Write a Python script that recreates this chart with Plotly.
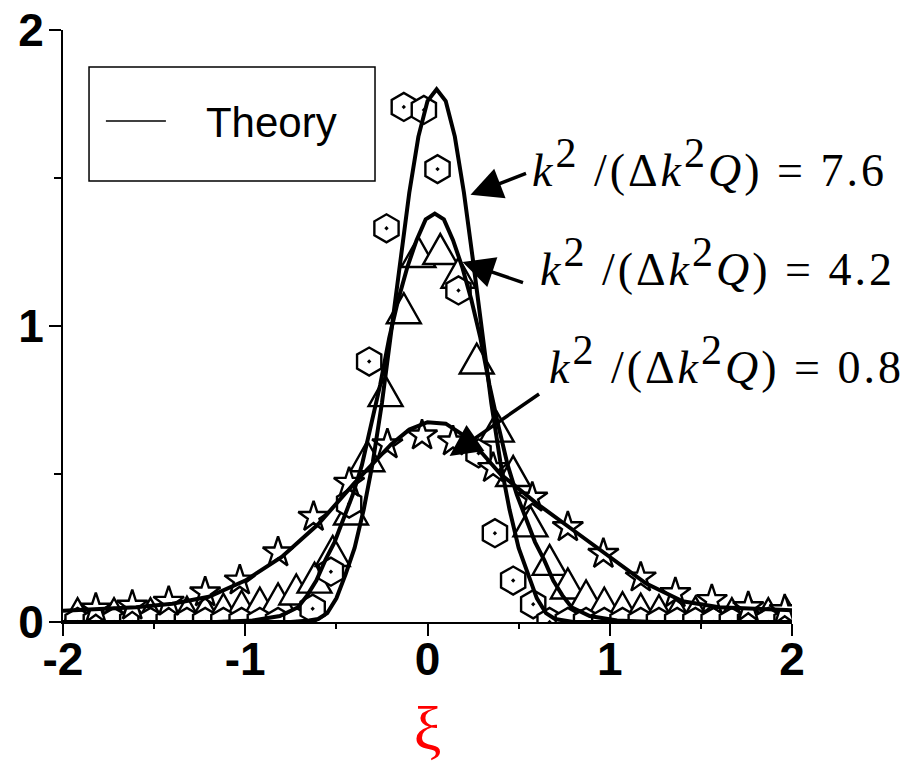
import plotly.graph_objects as go

# ---- theory curves (k^2/(Δk^2 Q) = 7.6, 4.2, 0.8) ----
xi_th76 = [-2.0, -0.75, -0.65, -0.60, -0.55, -0.50, -0.45, -0.40, -0.35, -0.30, -0.25,
           -0.20, -0.15, -0.10, -0.05, 0.00, 0.05, 0.10, 0.15, 0.20, 0.25, 0.30, 0.35,
           0.40, 0.45, 0.50, 0.55, 0.60, 0.65, 0.70, 0.80, 2.0]
y_th76 = [0.0, 0.0, 0.005, 0.01, 0.03, 0.08, 0.16, 0.25, 0.38, 0.54, 0.74,
          0.98, 1.22, 1.45, 1.64, 1.76, 1.80, 1.76, 1.64, 1.45, 1.22, 0.98, 0.74,
          0.54, 0.38, 0.25, 0.16, 0.08, 0.03, 0.01, 0.0, 0.0]

xi_th42 = [-2.0, -1.16, -0.96, -0.81, -0.71, -0.66, -0.61, -0.56, -0.51, -0.46, -0.41,
           -0.36, -0.31, -0.26, -0.21, -0.16, -0.11, -0.06, -0.01, 0.04, 0.09, 0.14,
           0.19, 0.24, 0.29, 0.34, 0.39, 0.44, 0.49, 0.54, 0.59, 0.64, 0.69, 0.74,
           0.79, 0.89, 1.04, 1.24, 2.0]
y_th42 = [0.0, 0.0, 0.005, 0.02, 0.05, 0.09, 0.14, 0.21, 0.27, 0.35, 0.43,
          0.53, 0.66, 0.80, 0.96, 1.09, 1.20, 1.29, 1.36, 1.38, 1.36, 1.29,
          1.20, 1.09, 0.96, 0.80, 0.66, 0.53, 0.43, 0.35, 0.27, 0.21, 0.14, 0.09,
          0.05, 0.02, 0.005, 0.0, 0.0]

xi_th08 = [-2.0, -1.8, -1.6, -1.4, -1.2, -1.0, -0.8, -0.6, -0.4, -0.2, -0.1, 0.0,
           0.1, 0.2, 0.3, 0.4, 0.5, 0.6, 0.8, 1.0, 1.2, 1.4, 1.6, 1.8, 2.0]
y_th08 = [0.038, 0.043, 0.05, 0.062, 0.085, 0.14, 0.22, 0.33, 0.47, 0.60, 0.65, 0.675,
          0.67, 0.63, 0.57, 0.50, 0.45, 0.40, 0.31, 0.22, 0.13, 0.07, 0.05, 0.045, 0.04]

# ---- measured points ----
xi_hex = [-1.92, -1.82, -1.72, -1.62, -1.52, -1.42, -1.32, -1.22, -1.12, -1.02, -0.92,
          -0.82, -0.72, -0.63, -0.53, -0.43, -0.32, -0.225, -0.13, -0.02, 0.055, 0.17,
          0.28, 0.37, 0.47, 0.58, 0.67, 0.77, 0.87, 0.97, 1.07, 1.17, 1.27, 1.37, 1.47,
          1.57, 1.67, 1.77, 1.87, 1.97]
y_hex = [0.0, 0.0, 0.0, 0.0, 0.0, 0.0, 0.0, 0.0, 0.0, 0.0, 0.0,
         0.0, 0.0, 0.045, 0.17, 0.40, 0.88, 1.33, 1.74, 1.73, 1.53, 1.12,
         0.57, 0.30, 0.14, 0.06, 0.0, 0.0, 0.0, 0.0, 0.0, 0.0, 0.0, 0.0, 0.0,
         0.0, 0.0, 0.0, 0.0, 0.0]

xi_tri = [-1.92, -1.82, -1.72, -1.62, -1.52, -1.42, -1.32, -1.22, -1.12, -1.02, -0.92,
          -0.82, -0.72, -0.62, -0.52, -0.42, -0.33, -0.23, -0.13, -0.05, 0.07, 0.17,
          0.27, 0.38, 0.47, 0.565, 0.67, 0.77, 0.87, 0.97, 1.07, 1.17, 1.27, 1.37,
          1.47, 1.57, 1.67, 1.77, 1.87, 1.97]
y_tri = [0.03, 0.03, 0.03, 0.03, 0.03, 0.035, 0.035, 0.04, 0.045, 0.055, 0.065,
         0.08, 0.11, 0.15, 0.24, 0.38, 0.56, 0.78, 1.06, 1.25, 1.26, 1.18,
         0.89, 0.66, 0.51, 0.34, 0.21, 0.13, 0.09, 0.065, 0.05, 0.045, 0.04, 0.035,
         0.035, 0.03, 0.03, 0.03, 0.03, 0.03]

xi_star = [-1.82, -1.62, -1.42, -1.22, -1.03, -0.82, -0.625, -0.43, -0.22, -0.03, 0.14,
           0.36, 0.575, 0.77, 0.965, 1.17, 1.36, 1.56, 1.76, 1.96]
y_star = [0.045, 0.055, 0.068, 0.10, 0.14, 0.235, 0.355, 0.47, 0.60, 0.63, 0.61,
          0.52, 0.42, 0.32, 0.23, 0.15, 0.097, 0.074, 0.05, 0.04]

# ---- axis ticks ----
x_ticks = [-2, -1, 0, 1, 2]
x_ticktext = ["-2", "-1", "0", "1", "2"]
x_minor = [-1.5, -0.5, 0.5, 1.5]
y_ticks = [0, 1, 2]
y_ticktext = ["0", "1", "2"]
y_minor = [0.5, 1.5]

# ---- curve labels: value, arrow tip (xi, y), arrow tail offset (px), text anchor (xi, y) ----
ratio_labels = ["7.6", "4.2", "0.8"]
arrow_tip_xi = [0.236, 0.192, 0.121]
arrow_tip_y = [1.443, 1.216, 0.561]
arrow_ax = [57, 62, 91]
arrow_ay = [-22, 21, -63]
label_xi = [0.565, 0.609, 0.653]
label_y = [1.55, 1.216, 0.885]

fig = go.Figure()

# open triangles (equilateral-looking), anchored at each measured point
tri_path = "M-17,-15L17,-15L0,15Z"
for xv, yv in zip(xi_tri, y_tri):
    fig.add_shape(type="path", xref="x", yref="y", xsizemode="pixel", ysizemode="pixel",
                  xanchor=xv, yanchor=yv, path=tri_path, fillcolor="white",
                  line=dict(color="black", width=2.4), layer="below")

marker_line = dict(color="black", width=2.4)
fig.add_trace(go.Scatter(x=xi_hex, y=y_hex, mode="markers", showlegend=False,
                         marker=dict(symbol="hexagon-dot", size=28, color="white",
                                     line=marker_line)))

fig.add_trace(go.Scatter(x=xi_star, y=y_star, mode="markers", showlegend=False,
                         marker=dict(symbol="star", size=23, color="white",
                                     line=marker_line)))

for xs, ys in [(xi_th08, y_th08), (xi_th42, y_th42), (xi_th76, y_th76)]:
    fig.add_trace(go.Scatter(x=xs, y=ys, mode="lines", showlegend=False,
                             line=dict(color="black", width=4)))

# legend entry for the theory curves
fig.add_trace(go.Scatter(x=[None], y=[None], mode="lines", name="\u00a0\u00a0\u00a0Theory",
                         line=dict(color="black", width=1.5), showlegend=True))

serif = "Liberation Serif, Times New Roman, serif"
sup2 = '<sup><span style="font-size:42px">2</span></sup>'
for i, val in enumerate(ratio_labels):
    txt = ('<span style="letter-spacing:3px"><i>k</i>' + sup2 + ' /(Δ<i>k</i>' + sup2 +
           '<i>Q</i>) = ' + val + '</span>')
    fig.add_annotation(x=label_xi[i], y=label_y[i], xref="x", yref="y", text=txt,
                       showarrow=False, xanchor="left", yanchor="middle",
                       font=dict(family=serif, size=46, color="black"))
    fig.add_annotation(x=arrow_tip_xi[i], y=arrow_tip_y[i], xref="x", yref="y", text="",
                       showarrow=True, ax=arrow_ax[i], ay=arrow_ay[i], arrowhead=2,
                       arrowsize=1.8, arrowwidth=3.5, arrowcolor="black", standoff=0)

# legend frame
fig.add_shape(type="rect", xref="paper", yref="paper", x0=0.0357, x1=0.428,
              y0=0.745, y1=0.9375, line=dict(color="black", width=1.5),
              fillcolor="rgba(0,0,0,0)")

tickfont = dict(family="Liberation Sans, Arial, sans-serif", size=46, color="black",
                weight="bold")
fig.update_layout(
    width=917, height=767,
    margin=dict(l=63, r=125, t=30, b=145),
    paper_bgcolor="white", plot_bgcolor="white",
    legend=dict(x=0.052, y=0.846, xanchor="left", yanchor="middle",
                bgcolor="rgba(0,0,0,0)", borderwidth=0, itemwidth=60,
                font=dict(family="Liberation Sans, Arial, sans-serif", size=42, color="black")),
    xaxis=dict(range=[-2, 2], automargin=False, showgrid=False, zeroline=False,
               showline=True, linecolor="black", linewidth=2, ticks="outside",
               ticklen=12, tickwidth=2, tickcolor="black", tickvals=x_ticks,
               ticktext=x_ticktext, tickfont=tickfont, ticklabelstandoff=-16,
               minor=dict(tickvals=x_minor, ticks="outside", ticklen=5, tickwidth=2,
                          tickcolor="black", showgrid=False),
               title=dict(text="ξ", standoff=21,
                          font=dict(family=serif, size=62, color="red"))),
    yaxis=dict(range=[0, 2], automargin=False, showgrid=False, zeroline=False,
               showline=True, linecolor="black", linewidth=2, ticks="outside",
               ticklen=12, tickwidth=2, tickcolor="black", tickvals=y_ticks,
               ticktext=y_ticktext, tickfont=tickfont, ticklabelstandoff=-4,
               minor=dict(tickvals=y_minor, ticks="outside", ticklen=7, tickwidth=2,
                          tickcolor="black", showgrid=False)),
)

fig.write_html("out.html")
